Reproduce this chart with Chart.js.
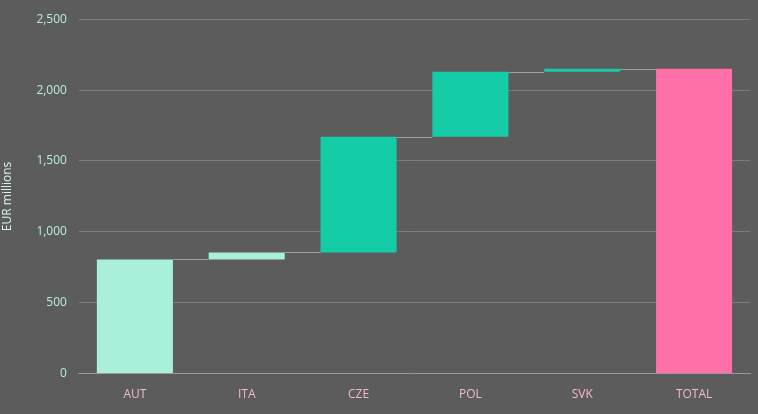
<!DOCTYPE html>
<html><head><meta charset="utf-8">
<script src="https://cdn.jsdelivr.net/npm/chart.js@4"></script>
<style>html,body{margin:0;background:#5c5c5c}#wrap{width:758px;height:414px}</style>
</head><body><div id="wrap"><canvas id="c"></canvas></div>
<script>
const categories = ['AUT', 'ITA', 'CZE', 'POL', 'SVK', 'TOTAL'];
const starts = [0, 805, 855, 1670, 2130, 0];
const ends = [805, 855, 1670, 2130, 2150, 2150];
const barColors = ['#a8f0dc', '#a8f0dc', '#14cca8', '#14cca8', '#14cca8', '#ff6fa8'];

const connectors = {
  id: 'connectors',
  afterDatasetsDraw(chart) {
    const ctx = chart.ctx, meta = chart.getDatasetMeta(0), y = chart.scales.y;
    ctx.save();
    ctx.strokeStyle = '#a0a0a0';
    ctx.lineWidth = 1;
    for (let i = 0; i < meta.data.length - 1; i++) {
      const a = meta.data[i], b = meta.data[i + 1];
      const yy = Math.round(y.getPixelForValue(ends[i])) + 0.5;
      ctx.beginPath();
      ctx.moveTo(a.x + a.width / 2, yy);
      ctx.lineTo(b.x - b.width / 2, yy);
      ctx.stroke();
    }
    ctx.restore();
  }
};

new Chart(document.getElementById('c'), {
  type: 'bar',
  data: {
    labels: categories,
    datasets: [{
      data: starts.map((s, i) => [s, ends[i]]),
      backgroundColor: barColors,
      categoryPercentage: 1,
      barPercentage: 0.68
    }]
  },
  options: {
    responsive: true,
    maintainAspectRatio: false,
    animation: false,
    layout: { padding: { top: 2, right: 8, bottom: 6 } },
    plugins: { legend: { display: false }, tooltip: { enabled: false } },
    scales: {
      x: {
        grid: { display: false },
        border: { color: '#9a9a9a' },
        ticks: { color: '#f4b8d0', padding: 6, font: { family: 'Open Sans', size: 12 } }
      },
      y: {
        min: 0, max: 2500,
        ticks: { stepSize: 500, color: '#b8eee0', padding: 12, font: { family: 'Open Sans', size: 12 } },
        grid: { color: '#7c7c7c', drawTicks: false },
        border: { display: false },
        title: { display: true, text: 'EUR millions', color: '#d8f4ec', padding: { top: 0, bottom: 10 }, font: { family: 'Open Sans', size: 12 } }
      }
    }
  },
  plugins: [connectors]
});
</script></body></html>
